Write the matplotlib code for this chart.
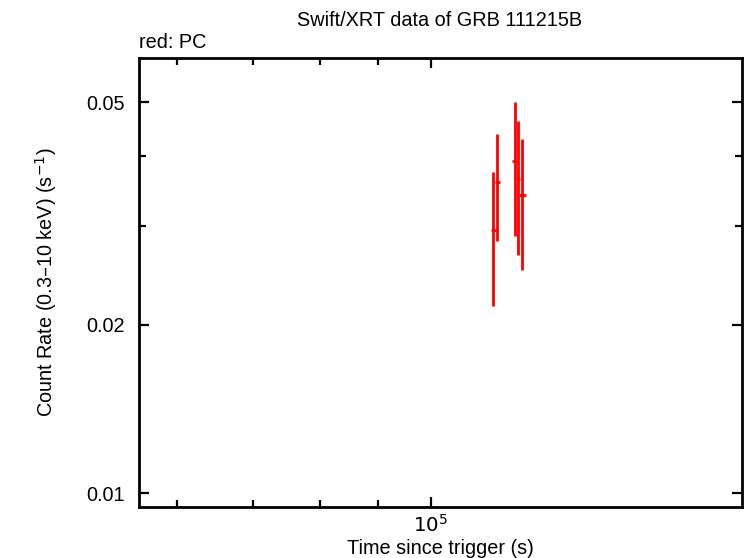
import numpy as np
import matplotlib
matplotlib.use("Agg")
import matplotlib.pyplot as plt
from matplotlib.ticker import FixedLocator, NullFormatter, FixedFormatter

plt.rcParams['font.family'] = ['Liberation Sans', 'DejaVu Sans']

# PC mode points
t_pc = [1.1345e5, 1.1439e5, 1.1860e5, 1.1932e5, 1.2028e5]
t_lo = [1.1293e5, 1.1378e5, 1.1782e5, 1.1890e5, 1.1949e5]
t_hi = [1.1408e5, 1.1500e5, 1.1894e5, 1.1975e5, 1.2118e5]
rate_pc = [0.02960, 0.03606, 0.03932, 0.03646, 0.03414]
rate_lo = [0.02164, 0.02820, 0.02879, 0.02670, 0.02510]
rate_hi = [0.03748, 0.04395, 0.05000, 0.04638, 0.04306]

y_ticks = [0.01, 0.02, 0.05]
y_tick_labels = ["0.01", "0.02", "0.05"]
y_minor = [0.03, 0.04]
x_minor = [6e4, 7e4, 8e4, 9e4]

t = np.array(t_pc)
r = np.array(rate_pc)
xerr = [t - np.array(t_lo), np.array(t_hi) - t]
yerr = [r - np.array(rate_lo), np.array(rate_hi) - r]

fs = 14.3
fig = plt.figure(figsize=(7.46, 5.58), dpi=100)
ax = fig.add_axes([139 / 746, 1 - 507 / 558, (742 - 139) / 746, (507 - 58) / 558])

ax.errorbar(t, r, xerr=xerr, yerr=yerr, fmt='none', ecolor='red',
            elinewidth=2.0, capsize=0)

ax.set_xscale('log')
ax.set_yscale('log')
ax.set_xlim(55640, 187100)
ax.set_ylim(0.00944, 0.0600)

ax.xaxis.set_major_locator(FixedLocator([1e5]))
ax.xaxis.set_major_formatter(FixedFormatter(["$10^5$"]))
ax.xaxis.set_minor_locator(FixedLocator(x_minor))
ax.xaxis.set_minor_formatter(NullFormatter())

ax.yaxis.set_major_locator(FixedLocator(y_ticks))
ax.yaxis.set_major_formatter(FixedFormatter(y_tick_labels))
ax.yaxis.set_minor_locator(FixedLocator(y_minor))
ax.yaxis.set_minor_formatter(NullFormatter())

ax.tick_params(which='both', direction='in', top=True, right=True,
               width=1.6, labelsize=fs)
ax.tick_params(axis='y', pad=10)
ax.tick_params(axis='x', pad=5)
ax.tick_params(which='major', length=7)
ax.tick_params(which='minor', length=5)
for s in ax.spines.values():
    s.set_linewidth(2.0)

fig.text(440 / 746, 1 - 548 / 558, "Time since trigger (s)",
         ha='center', va='center', fontsize=fs)
fig.text(46 / 746, 1 - 282 / 558, "Count Rate (0.3\u201310 keV) (s$^{-1}$)",
         ha='center', va='center', rotation=90, fontsize=fs)
fig.text(440 / 746, 1 - 20 / 558, "Swift/XRT data of GRB 111215B",
         ha='center', va='center', fontsize=fs)
fig.text(139 / 746, 1 - 42 / 558, "red: PC", ha='left', va='center', fontsize=fs)

fig.savefig("out.png", dpi=100)
